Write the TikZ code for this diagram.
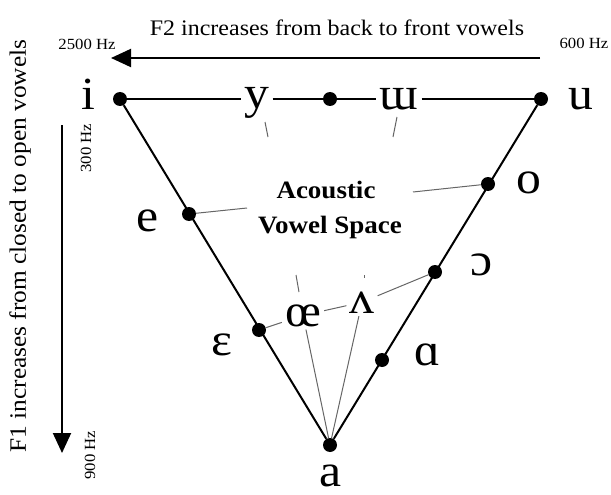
\documentclass[tikz,border=0pt]{standalone}
\usepackage{fontspec}
\setmainfont{Liberation Serif}[FakeStretch=1.08]
\usetikzlibrary{arrows.meta}
\begin{document}
\begin{tikzpicture}[x=1pt,y=-1pt,
  dot/.style={circle,fill=black,inner sep=0pt,minimum size=14pt},
  vowel/.style={font=\fontsize{46}{46}\selectfont,inner sep=3pt,anchor=base},
  tri/.style={line width=2pt},
  guide/.style={black!60, line width=1pt},
  hz/.style={font=\fontsize{15.5}{15.5}\selectfont},
  axis/.style={font=\fontsize{22.2}{22.2}\selectfont},
  avs/.style={font=\bfseries\fontsize{25}{25}\selectfont,anchor=base,inner sep=0pt},
  bigarrow/.style={line width=2pt,-{Triangle[length=20pt,width=18pt]}}
]
\useasboundingbox (0,0) rectangle (611,495);
% dots
\node[dot] (di) at (120,99) {};
\node[dot] (dm) at (330,99) {};
\node[dot] (du) at (541,99) {};
\node[dot] (de) at (189,214) {};
\node[dot] (deps) at (259,330) {};
\node[dot] (da) at (330,445) {};
\node[dot] (do) at (488,184) {};
\node[dot] (dop) at (435,272) {};
\node[dot] (dal) at (382,360) {};
% vowel labels
\node[vowel] (li) at (88,110) {i};
\node[vowel] (lu) at (581,110) {u};
\node[vowel] (ly) at (257,109) {y};
\node[vowel] (lw) at (399,110) {ɯ};
\node[vowel] (le) at (148,231) {e};
\node[vowel] (lo) at (529,193) {o};
\node[vowel] (lop) at (482,275) {ɔ};
\node[vowel] (leps) at (222,355) {ɛ};
\node[vowel] (lal) at (427,365) {ɑ};
\node[vowel,inner sep=0.5pt] (la) at (331,486) {a};
\node[vowel] (loe) at (303,326) {œ};
\node[vowel] (lv) at (362,313) {ʌ};
% triangle
\draw[tri] (di) -- (da);
\draw[tri] (du) -- (da);
\draw[tri] (di) -- (di -| ly.west);
\draw[tri] (ly.east |- dm) -- (dm) -- (lw.west |- dm);
\draw[tri] (lw.east |- du) -- (du);
% acoustic vowel space
\node[avs] (avs1) at (326,198) {Acoustic};
\node[avs] (avs2) at (330,233) {Vowel Space};
% guide lines
\coordinate (gE) at (247,208);
\coordinate (gO) at (413,192);
\draw[guide] (de) -- (gE);
\draw[guide] (do) -- (gO);
\draw[guide] (deps) -- (loe);
\draw[guide] (loe) -- (lv);
\draw[guide] (lv) -- (dop);
\draw[guide] (da) -- (loe);
\draw[guide] (da) -- (lv);
\coordinate (t1a) at (265,122); \coordinate (t1b) at (268,137);
\coordinate (t2a) at (397,117); \coordinate (t2b) at (393,137);
\coordinate (t3a) at (296,275); \coordinate (t3b) at (299,292);
\coordinate (t4a) at (364,275); \coordinate (t4b) at (364,278);
\draw[guide] (t1a) -- (t1b);
\draw[guide] (t2a) -- (t2b);
\draw[guide] (t3a) -- (t3b);
\draw[guide] (t4a) -- (t4b);
% axes
\node[axis] (tF2) at (337,28) {F2 increases from back to front vowels};
\node[hz] (h2500) at (87,44) {2500 Hz};
\node[hz] (h600) at (584,43) {600 Hz};
\coordinate (a2s) at (540,58); \coordinate (a2e) at (111,58);
\draw[bigarrow] (a2s) -- (a2e);
\node[axis,font=\fontsize{23.5}{23.5}\selectfont,rotate=90] (tF1) at (20,246) {F1 increases from closed to open vowels};
\coordinate (a1s) at (62,125); \coordinate (a1e) at (62,453);
\draw[bigarrow] (a1s) -- (a1e);
\node[hz,rotate=90] (h300) at (86,148) {300 Hz};
\node[hz,rotate=90] (h900) at (90,455) {900 Hz};
\end{tikzpicture}
\end{document}
